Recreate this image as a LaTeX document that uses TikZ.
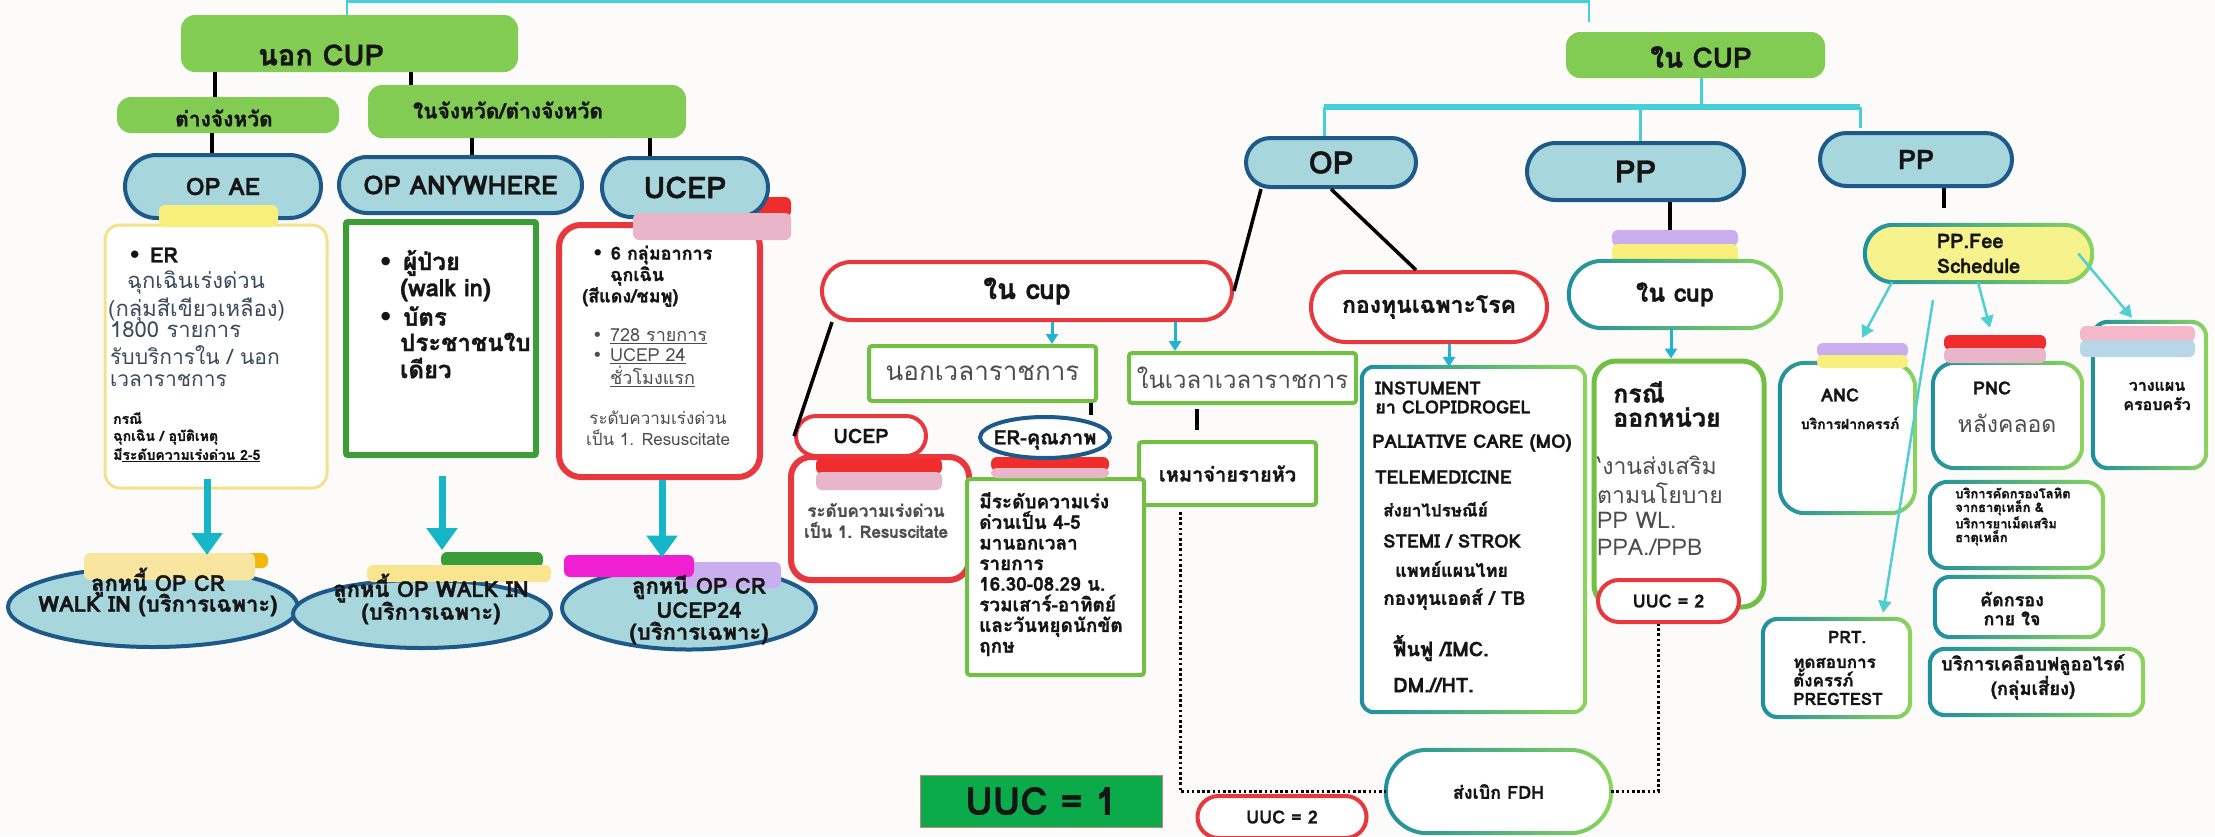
\documentclass[tikz,border=0pt]{standalone}
\usepackage{fontspec}
\setmainfont[Script=Thai, BoldFeatures={FakeBold=1.2}]{Loma}
\newfontfamily\dejavu{DejaVu Sans}
\usetikzlibrary{shapes.geometric,arrows.meta}

\definecolor{bgc}{HTML}{FDFAFA}
\definecolor{blobg}{HTML}{83CC53}
\definecolor{pillb}{HTML}{A8D6DD}
\definecolor{pille}{HTML}{1D5A8A}
\definecolor{redc}{HTML}{E8383D}
\definecolor{lgreen}{HTML}{72C043}
\definecolor{dgreen}{HTML}{3E9C3A}
\definecolor{ybord}{HTML}{F3E28C}
\definecolor{cyanc}{HTML}{45D0D8}
\definecolor{arrowc}{HTML}{16B6C9}
\definecolor{sarrow}{HTML}{22B2D2}
\definecolor{tarrow}{HTML}{4ECFD2}
\definecolor{gteal}{HTML}{1E8FA0}
\definecolor{ggreen}{HTML}{8CD45C}
\definecolor{ertxt}{HTML}{3A4A5C}
\definecolor{graytxt}{HTML}{4D4D4D}
\definecolor{txtc}{HTML}{151515}
\definecolor{uucg}{HTML}{0BAB4C}
\definecolor{uuce}{HTML}{C98080}
\definecolor{feey}{HTML}{F6F28C}
\definecolor{yellowp}{HTML}{F9F07C}
\definecolor{beigep}{HTML}{F8E6A0}
\definecolor{yel2}{HTML}{F9E48F}
\definecolor{orangep}{HTML}{F3B60A}
\definecolor{greenp}{HTML}{3A9D3A}
\definecolor{magp}{HTML}{F020D2}
\definecolor{lavp}{HTML}{C9AEF0}
\definecolor{redp}{HTML}{F02D2D}
\definecolor{pinkp}{HTML}{E9B6C9}
\definecolor{pink2}{HTML}{F5B8CB}
\definecolor{lbluep}{HTML}{B8D7E6}

\newcommand{\gframe}[3]{%
  \shade[left color=gteal, right color=ggreen, even odd rule]
    [rounded corners=#2pt] ([shift={(-2pt,2pt)}]#1.north west) rectangle ([shift={(2pt,-2pt)}]#1.south east)
    [rounded corners=#3pt] ([shift={(2pt,-2pt)}]#1.north west) rectangle ([shift={(-2pt,2pt)}]#1.south east);}
\newcommand{\bul}{{\dejavu\char"2022}\hspace{0.4em}}

\begin{document}
\begin{tikzpicture}[x=1pt,y=-1pt,
  tb/.style={inner sep=0pt, text=txtc, font={\pgfmathsetmacro\lsk{1.2*#1}\fontsize{#1pt}{\lsk pt}\selectfont\bfseries}},
  tr/.style={inner sep=0pt, text=graytxt, font={\pgfmathsetmacro\lsk{1.2*#1}\fontsize{#1pt}{\lsk pt}\selectfont}},
  blob/.style={rectangle, fill=blobg, draw=none, rounded corners=14pt, inner sep=0pt},
  pill/.style={rectangle, rounded corners=#1pt, fill=pillb, draw=pille, line width=4pt, inner sep=0pt, text=txtc},
  oval/.style={ellipse, fill=pillb, draw=pille, line width=4pt, inner sep=0pt},
  redpill/.style={rectangle, rounded corners=#1pt, fill=white, draw=redc, line width=4pt, inner sep=0pt},
  gbox/.style={rectangle, fill=white, draw=none, inner sep=0pt, rounded corners=#1pt},
  grnbox/.style={rectangle, fill=white, draw=lgreen, line width=4pt, inner sep=0pt, rounded corners=3pt},
  patch/.style={rounded corners=6pt},
  blk/.style={line width=3.5pt, draw=black},
  cline/.style={line width=3pt, draw=cyanc},
  bigarrow/.style={line width=7pt, draw=arrowc, -{Triangle[width=30pt,length=22pt]}},
  smallarrow/.style={line width=3pt, draw=sarrow, -{Triangle[width=12pt,length=10pt]}},
  thinarrow/.style={line width=2.5pt, draw=tarrow, -{Triangle[width=13pt,length=12pt]}},
  dotline/.style={line width=3pt, draw=black, dash pattern=on 2.6pt off 2.6pt},
]
\fill[bgc] (0,0) rectangle (2215,836);
\useasboundingbox (0,0) rectangle (2215,836);

% ---------- top level ----------
\node[blob, minimum width=337pt, minimum height=57pt] (outcupbox) at (349.5,43.5) {};
\node[tb=29] (outcup) at (321,55) {นอก CUP};
\node[blob, minimum width=259pt, minimum height=46pt] (incupbox) at (1695.5,55) {};
\node[tb=28] (incupT) at (1701,57) {ใน CUP};
\coordinate (topL) at (347,1.5);
\coordinate (topR) at (1589,1.5);
\coordinate (topRe) at (1589,22);
\draw[cline, line width=2.5pt] (outcupbox.north -| topL) -- (topL) -- (topR) -- (topRe);

\node[blob, minimum width=222pt, minimum height=36pt] (provbox) at (228,115) {};
\node[tb=21] (prov) at (224,118) {ต่างจังหวัด};
\node[blob, minimum width=318pt, minimum height=53pt] (inprovbox) at (527,111.5) {};
\node[tb=21] (inprov) at (508,110) {ในจังหวัด/ต่างจังหวัด};
\draw[blk] ([xshift=-134.5pt]outcupbox.south) -- ([xshift=-134.5pt]outcupbox.south |- provbox.north);
\draw[blk] ([xshift=61.5pt]outcupbox.south) -- ([xshift=61.5pt]outcupbox.south |- inprovbox.north);

% ---------- left pills ----------
\fill[redp, patch] (640,197) rectangle (791,217);
\node[pill=31.5, minimum width=196pt, minimum height=63pt, tb=24] (opae) at (223,186.5) {OP AE};
\node[pill=28, minimum width=243pt, minimum height=56pt, tb=26] (opany) at (460.5,185) {OP ANYWHERE};
\node[pill=29.5, minimum width=166pt, minimum height=59pt, tb=30] (ucep1) at (685,187.5) {UCEP};
\draw[blk] ([xshift=-16pt]provbox.south) -- ([xshift=-16pt]provbox.south |- opae.north);
\draw[blk] ([xshift=-55pt]inprovbox.south) -- ([xshift=-55pt]inprovbox.south |- opany.north);
\draw[blk] ([xshift=123pt]inprovbox.south) -- ([xshift=123pt]inprovbox.south |- ucep1.north);

% ---------- left boxes ----------
\node[rectangle, draw=ybord, line width=3pt, fill=white, rounded corners=15pt, minimum width=222pt, minimum height=263pt, inner sep=0pt] (erbox) at (216,356.5) {};
\node[rectangle, draw=dgreen, line width=6pt, fill=white, rounded corners=2pt, minimum width=190pt, minimum height=233pt, inner sep=0pt] (opanybox) at (441,338.5) {};
\node[rectangle, draw=redc, line width=6pt, fill=white, rounded corners=22pt, minimum width=201pt, minimum height=252pt, inner sep=0pt] (ucepbox) at (659.5,351) {};
\fill[yellowp, patch] (159,205) rectangle (278,227);
\fill[pinkp, patch] (633,213) rectangle (791,240);

\node[tb=21, anchor=west] (erT1) at (128,255) {\bul ER};
\node[tr=22, anchor=west, text=ertxt] (erT2) at (127,283) {ฉุกเฉินเร่งด่วน};
\node[tr=22, anchor=west, text=ertxt] (erT3) at (108,310) {(กลุ่มสีเขียวเหลือง)};
\node[tr=22, anchor=west, text=ertxt] (erT4) at (110,330) {1800 รายการ};
\node[tr=21, anchor=west, text=ertxt] (erT5) at (110,355) {รับบริการใน / นอก};
\node[tr=21, anchor=west, text=ertxt] (erT6) at (110,380) {เวลาราชการ};
\node[tb=14, anchor=west] (erT7) at (113,418) {กรณี};
\node[tb=14, anchor=west] (erT8) at (113,437) {ฉุกเฉิน / อุบัติเหตุ};
\node[tb=14, anchor=west] (erT9) at (113,455) {มี\underline{ระดับความเร่งด่วน 2-5}};

\node[tb=24, anchor=west] (oaT1) at (378,263) {\bul ผู้ป่วย};
\node[tb=24, anchor=west] (oaT2) at (400,290) {(walk in)};
\node[tb=24, anchor=west] (oaT3) at (378,316) {\bul บัตร};
\node[tb=24, anchor=west] (oaT4) at (400,342) {ประชาชนใบ};
\node[tb=24, anchor=west] (oaT5) at (400,368) {เดียว};

\node[tb=18, anchor=west] (ucT1) at (592,255) {\bul 6 กลุ่มอาการ};
\node[tb=18, anchor=west] (ucT2) at (610,276) {ฉุกเฉิน};
\node[tb=18, anchor=west] (ucT3) at (582,297) {(สีแดง/ชมพู)};
\node[tr=18, anchor=west] (ucT4) at (592,336) {\bul\underline{728 รายการ}};
\node[tr=18, anchor=west] (ucT5) at (592,356) {\bul\underline{UCEP 24}};
\node[tr=18, anchor=west] (ucT6) at (610,376) {\underline{ชั่วโมงแรก}};
\node[tr=17] (ucT7) at (658,418) {ระดับความเร่งด่วน};
\node[tr=17] (ucT8) at (658,438) {เป็น 1. Resuscitate};

% ---------- bottom ovals ----------
\node[oval, minimum width=290pt, minimum height=80pt] (w1) at (153,607) {};
\node[oval, minimum width=258pt, minimum height=68pt] (w2) at (422,614) {};
\node[oval, minimum width=254pt, minimum height=83pt] (w3) at (689,608) {};
\fill[orangep, patch] (173,553) rectangle (268,568);
\fill[beigep, patch] (84,553) rectangle (255,580);
\fill[greenp, patch] (441,552) rectangle (543,567);
\fill[yel2, patch] (367,565) rectangle (551,582);
\fill[lavp, patch] (679,562) rectangle (781,588);
\fill[magp, patch] (564,555) rectangle (694,577);
\node[tb=22] (w1T1) at (158,582) {ลูกหนี้ OP CR};
\node[tb=22] (w1T2) at (158,605) {WALK IN (บริการเฉพาะ)};
\node[tb=22] (w2T1) at (431,588) {ลูกหนี้ OP WALK IN};
\node[tb=22] (w2T2) at (431,613) {(บริการเฉพาะ)};
\node[tb=22] (w3T1) at (699,587) {ลูกหนี OP CR};
\node[tb=22] (w3T2) at (699,610) {UCEP24};
\node[tb=22] (w3T3) at (699,633) {(บริการเฉพาะ)};
\draw[bigarrow, shorten >=10pt] ([xshift=-9pt,yshift=11pt]erbox.south) -- ([xshift=-9pt]erbox.south |- w1.north);
\draw[bigarrow, shorten >=28pt] ([xshift=1pt,yshift=-18pt]opanybox.south) -- ([xshift=1pt]opanybox.south |- w2.north);
\draw[bigarrow, shorten >=7pt] ([xshift=2.5pt]ucepbox.south) -- ([xshift=2.5pt]ucepbox.south |- w3.north);

% ---------- in CUP level ----------
\node[pill=24.5, minimum width=170pt, minimum height=49pt, tb=31] (op) at (1331,162.5) {OP};
\node[pill=28.5, minimum width=217pt, minimum height=57pt, tb=31] (ppm) at (1635.5,171.5) {PP};
\node[pill=26.5, minimum width=192pt, minimum height=53pt, tb=27] (ppr) at (1916,159.5) {PP};
\coordinate (barL) at (1324,107);
\coordinate (barR) at (1860,107);
\coordinate (barM) at (1701,107);
\coordinate (barC) at (1640,110);
\draw[cline] ([xshift=5.5pt]incupbox.south) -- (barM);
\draw[cline, line width=6pt] (barL) -- (barR);
\draw[cline] (barL) -- (barL |- op.north);
\draw[cline] (barC) -- ([xshift=4.5pt]ppm.north);
\draw[cline] (barR) -- ([yshift=3pt]barR |- ppr.north);

% ---------- OP branch ----------
\node[redpill=29, minimum width=410pt, minimum height=58pt, tb=28] (opcup) at (1027,291) {ใน cup};
\node[redpill=35, minimum width=236pt, minimum height=70pt, tb=23] (kong) at (1429,307) {กองทุนเฉพาะโรค};
\draw[blk] ([xshift=-70pt]op.south) -- (opcup.east);
\draw[blk] (op.south) -- ([xshift=-13pt]kong.north);
\node[grnbox, minimum width=227pt, minimum height=55pt, tr=26] (nokwela) at (982.5,373.5) {นอกเวลาราชการ};
\node[grnbox, minimum width=227pt, minimum height=50pt, tr=24] (naiwela) at (1242.5,378) {ในเวลาเวลาราชการ};
\draw[smallarrow] ([xshift=25pt]opcup.south) -- ([xshift=25pt]opcup.south |- nokwela.north);
\draw[smallarrow] ([xshift=148pt]opcup.south) -- ([xshift=148pt]opcup.south |- naiwela.north);

\node[rectangle, draw=redc, line width=6pt, fill=white, rounded corners=20pt, minimum width=178pt, minimum height=123pt, inner sep=0pt] (ucepbox2) at (880,518.5) {};
\fill[redp, patch] (816,458) rectangle (942,474);
\fill[pinkp, patch] (816,472) rectangle (942,490);
\node[redpill=20, minimum width=130pt, minimum height=40pt, tb=20] (ucep2) at (861,436) {UCEP};
\node[tb=17, text=graytxt] (u2T1) at (876,510) {ระดับความเร่งด่วน};
\node[tb=17, text=graytxt] (u2T2) at (876,530) {เป็น 1. Resuscitate};
\draw[blk] ([xshift=-195pt]opcup.south) -- (ucep2.west);

\node[grnbox, minimum width=177pt, minimum height=63pt, tb=20] (mao) at (1227.5,473.5) {เหมาจ่ายรายหัว};
\node[grnbox, minimum width=177pt, minimum height=196pt] (erbox2) at (1055.5,577) {};
\fill[redp, patch] (991,457) rectangle (1109,471);
\fill[pinkp, patch] (991,468) rectangle (1109,478);
\node[ellipse, draw=pille, line width=4pt, fill=white, inner sep=0pt, minimum width=130pt, minimum height=41pt] (erq) at (1045,437.5) {};
\node[tb=20] (erqT) at (1045,440) {ER-คุณภาพ};
\node[anchor=north west, inner sep=0pt, align=left, text=txtc, font=\fontsize{19pt}{20.6pt}\selectfont\bfseries] (erbox2T) at (979,492) {มีระดับความเร่ง\\ด่วนเป็น 4-5\\มานอกเวลา\\รายการ\\16.30-08.29 น.\\รวมเสาร์-อาทิตย์\\และวันหยุดนักขัต\\ฤกษ};
\draw[blk] ([xshift=108.5pt]nokwela.south) -- ([xshift=108.5pt]nokwela.south |- erq.north);
\draw[blk, shorten <=4pt, shorten >=10pt] ([xshift=-45.5pt]naiwela.south) -- ([xshift=-45.5pt]naiwela.south |- mao.north);

\node[rectangle, fill=uucg, draw=uuce, line width=1pt, minimum width=242pt, minimum height=52pt, inner sep=0pt, tb=38] (uuc1) at (1041,801) {UUC = 1};
\node[redpill=21, minimum width=169pt, minimum height=42pt, tb=18] (uuc2a) at (1282,817) {UUC = 2};
\node[gbox=41.5, minimum width=225pt, minimum height=83pt, tb=18] (fdh) at (1498.5,791.5) {ส่งเบิก FDH};
\gframe{fdh}{43.5}{39.5}

\node[gbox=12, minimum width=223pt, minimum height=345pt] (bigbox) at (1473.5,539.5) {};
\gframe{bigbox}{14}{10}
\draw[smallarrow] ([xshift=20pt]kong.south) -- ([xshift=20pt]kong.south |- bigbox.north);
\node[tb=18, anchor=west] (k1) at (1375,388) {INSTUMENT};
\node[tb=18, anchor=west] (k2) at (1375,407) {ยา CLOPIDROGEL};
\node[tb=18.5, anchor=west] (k3) at (1372,443) {PALIATIVE CARE (MO)};
\node[tb=18.5, anchor=west] (k4) at (1375,477) {TELEMEDICINE};
\node[tb=17, anchor=west] (k5) at (1383,509) {ส่งยาไปรษณีย์};
\node[tb=18.5, anchor=west] (k6) at (1383,541) {STEMI / STROK};
\node[tb=18, anchor=west] (k7) at (1395,569) {แพทย์แผนไทย};
\node[tb=19, anchor=west] (k8) at (1383,599) {กองทุนเอดส์ / TB};
\node[tb=20, anchor=west] (k9) at (1393,648) {ฟื้นฟู /IMC.};
\node[tb=20, anchor=west] (k10) at (1393,685) {DM.//HT.};

% ---------- PP middle ----------
\coordinate (ppbar) at (1670,235);
\draw[blk] ([xshift=34.5pt]ppm.south) -- (ppbar);
\fill[lavp, patch] (1612,230) rectangle (1738,246);
\fill[yellowp, patch] (1612,244) rectangle (1738,262);
\node[gbox=33.5, minimum width=212pt, minimum height=67pt, tb=25] (ppcup) at (1675,294.5) {ใน cup};
\gframe{ppcup}{35.5}{31.5}
\node[rectangle, draw=lgreen, line width=5pt, fill=white, rounded corners=22pt, minimum width=170pt, minimum height=246pt, inner sep=0pt] (korani) at (1679,484) {};
\draw[smallarrow] ([xshift=-4pt]ppcup.south) -- ([xshift=-4pt]ppcup.south |- korani.north);
\node[tb=25, anchor=west] (korT1) at (1613,392) {กรณี};
\node[tb=25, anchor=west] (korT2) at (1613,417) {ออกหน่วย};
\node[tr=23, anchor=west] (korT3) at (1597,465) {‘งานส่งเสริม};
\node[tr=23, anchor=west] (korT4) at (1597,493) {ตามนโยบาย};
\node[tr=23, anchor=west] (korT5) at (1597,520) {PP WL.};
\node[tr=23, anchor=west] (korT6) at (1597,547) {PPA./PPB};
\node[redpill=21, minimum width=141pt, minimum height=42pt, tb=18] (uuc2b) at (1668.5,601) {UUC = 2};

\draw[dotline] ([xshift=-47.5pt,yshift=-5pt]mao.south) |- (fdh.west);
\draw[dotline] (fdh.east) -| ([xshift=-10pt]uuc2b.south);

% ---------- PP right ----------
\node[gbox=28.5, fill=feey, minimum width=227pt, minimum height=57pt, align=left, text=txtc, font=\fontsize{20pt}{25pt}\selectfont\bfseries] (fee) at (1978.5,253.5) {PP.Fee\\Schedule};
\gframe{fee}{30.5}{26.5}
\draw[blk, shorten >=17pt] ([xshift=28pt]ppr.south) -- ([xshift=28pt]ppr.south |- fee.north);

\node[gbox=25, minimum width=135pt, minimum height=150pt] (anc) at (1847.5,438) {};
\gframe{anc}{27}{23}
\node[gbox=22, minimum width=149pt, minimum height=105pt] (pnc) at (2007.5,415.5) {};
\gframe{pnc}{24}{20}
\node[gbox=15, minimum width=113pt, minimum height=146pt] (plan) at (2149.5,395) {};
\gframe{plan}{17}{13}
\node[gbox=18, minimum width=173pt, minimum height=86pt] (iron) at (2016.5,525) {};
\gframe{iron}{20}{16}
\node[gbox=15, minimum width=168pt, minimum height=60pt] (kaijai) at (2019,607) {};
\gframe{kaijai}{17}{13}
\node[gbox=15, minimum width=213pt, minimum height=66pt] (fluor) at (2036.5,682) {};
\gframe{fluor}{17}{13}
\node[gbox=15, minimum width=147pt, minimum height=98pt] (prt) at (1836.5,668) {};
\gframe{prt}{17}{13}

\fill[lavp, patch] (1817,343) rectangle (1908,357);
\fill[yellowp, patch] (1817,355) rectangle (1908,368);
\fill[redp, patch] (1944,335) rectangle (2046,350);
\fill[pinkp, patch] (1944,348) rectangle (2046,363);
\fill[pink2, patch] (2080,326) rectangle (2195,342);
\fill[lbluep, patch] (2080,340) rectangle (2195,357);

\node[tb=18] (ancT1) at (1840,395) {ANC};
\node[tb=14] (ancT2) at (1850,423) {บริการฝากครรภ์};
\node[tb=18] (pncT1) at (1992,388) {PNC};
\node[tr=23] (pncT2) at (2007,423) {หลังคลอด};
\node[tb=16, align=center] (planT) at (2157,396) {วางแผน\\ครอบครัว};
\node[anchor=west, inner sep=0pt, align=left, text=txtc, font=\fontsize{13pt}{13.7pt}\selectfont\bfseries] (ironT) at (1955,516.5) {บริการคัดกรองโลหิต\\จากธาตุเหล็ก \&\\บริการยาเม็ดเสริม\\ธาตุเหล็ก};
\node[tb=17, align=center, font=\fontsize{18pt}{19pt}\selectfont\bfseries] (kaijaiT) at (2012,608.5) {คัดกรอง\\กาย ใจ};
\node[tb=18, align=center, font=\fontsize{18.5pt}{20pt}\selectfont\bfseries] (fluorT) at (2033,677) {บริการเคลือบฟลูออไรด์\\(กลุ่มเสี่ยง)};
\node[tb=17] (prtT1) at (1847,637) {PRT.};
\node[anchor=west, inner sep=0pt, align=left, text=txtc, font=\fontsize{17pt}{18.5pt}\selectfont\bfseries] (prtT2) at (1793,681.5) {ทดสอบการ\\ตั้งครรภ์\\PREGTEST};

\draw[thinarrow] ([xshift=-86.5pt]fee.south) -- ([xshift=14.5pt,yshift=25pt]anc.north);
\draw[thinarrow] ([xshift=-0.5pt]fee.south) -- ([xshift=-17.5pt,yshift=35pt]pnc.north);
\draw[thinarrow] ([xshift=-14pt]fee.east) -- ([xshift=-17.5pt,yshift=4pt]plan.north);
\draw[thinarrow] ([xshift=-45.5pt,yshift=-18pt]fee.south) -- ([xshift=46.5pt,yshift=6pt]prt.north);
\end{tikzpicture}
\end{document}
